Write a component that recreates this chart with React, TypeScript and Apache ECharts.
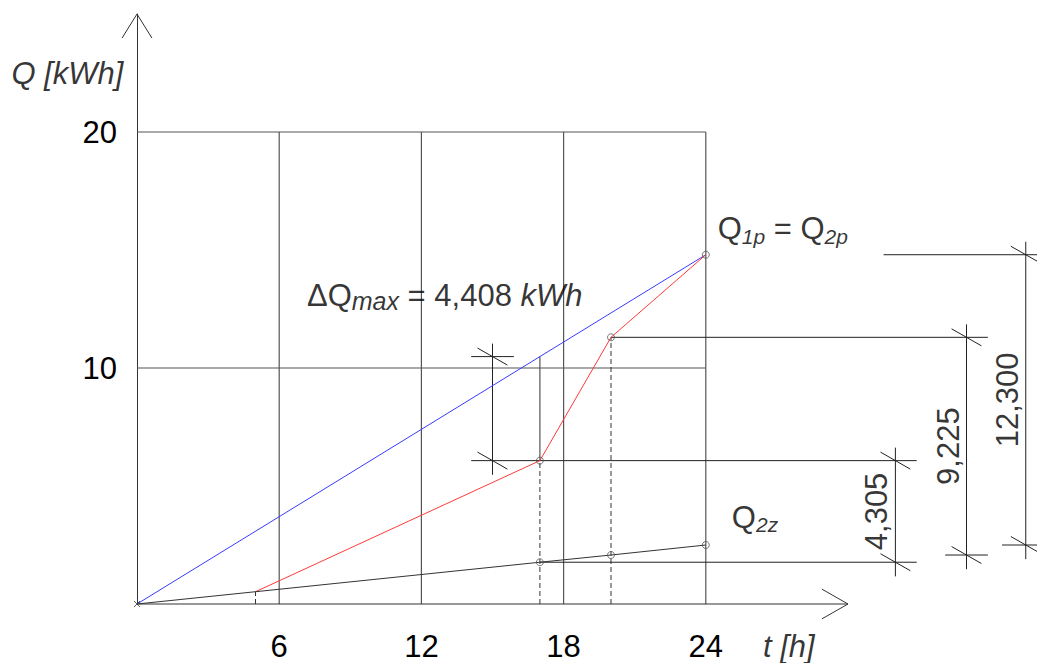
import React, { useEffect, useRef } from 'react';
import * as echarts from 'echarts';

// ---- data ----
const tTicks = [6, 12, 18, 24];
const qTicks = [10, 20];
const tMax = 30;
const qMax = 25;
const q1pLine = [[0, 0], [24, 14.8]];
const q2pLine = [[5, 0.52], [17, 6.075], [20, 11.3], [24, 14.8]];
const q2zLine = [[0, 0], [17, 1.77], [20, 2.075], [24, 2.5]];
const markedPoints = [[17, 6.075], [20, 11.3], [24, 14.8], [17, 1.77], [20, 2.075], [24, 2.5]];
const dQmax = 4.408;
const dimLabels = ['4,305', '9,225', '12,300'];

// ---- drawing geometry (data units) ----
const dimLines = [
  { x: 15, from: 6.075, to: 10.483 },
  { x: 32, from: 1.77, to: 6.075 },
  { x: 35, from: 2.075, to: 11.3 },
  { x: 37.5, from: 2.5, to: 14.8 },
];
const extLines = [
  [[14.1, 10.483], [15.9, 10.483]],
  [[14.1, 6.075], [32.9, 6.075]],
  [[17, 1.77], [32.9, 1.77]],
  [[20, 11.3], [35.9, 11.3]],
  [[34.1, 2.075], [35.9, 2.075]],
  [[31.5, 14.8], [38.6, 14.8]],
  [[36.5, 2.5], [38.6, 2.5]],
];
const dashedLines = [
  [[5, 0], [5, 0.52]],
  [[17, 0], [17, 6.075]],
  [[20, 0], [20, 11.3]],
];
const solidLines = [[[17, 6.075], [17, 10.483]]];

const FONT = '"Liberation Sans", Arial, sans-serif';
const FS = 31;
const PX = 23.7; // pixels per hour
const X_MIN = -6;
const X_MAX = 42;

function seg(pts: any[], color: string, width: number, type: any = 'solid', z = 2) {
  return {
    type: 'line',
    data: pts,
    symbol: 'none',
    clip: false,
    silent: true,
    animation: false,
    z,
    lineStyle: { color, width, type },
  };
}

function textItem(x: number, y: number, label: any) {
  return { value: [x, y], label: { show: true, position: 'inside', ...label } };
}

export default function App() {
  const ref = useRef<HTMLDivElement>(null);
  useEffect(() => {
    if (!ref.current) return;
    const chart = echarts.init(ref.current, null, { renderer: 'svg' });
    const gridColor = '#555';
    const series: any[] = [];

    // grid lines
    tTicks.forEach((t) => series.push(seg([[t, 0], [t, qTicks[qTicks.length - 1]]], gridColor, 1.2)));
    qTicks.forEach((q) => series.push(seg([[0, q], [tTicks[tTicks.length - 1], q]], gridColor, 1.2)));

    // axes with open arrows
    series.push(seg([[0, 0], [tMax, 0]], '#333', 1));
    series.push(seg([[tMax - 1.1, 0.63], [tMax, 0], [tMax - 1.1, -0.63]], '#333', 1));
    series.push(seg([[-0.63, qMax - 1.02], [0, qMax], [0.63, qMax - 1.02]], '#333', 1));

    // helper lines
    dashedLines.forEach((l) => series.push(seg(l, '#333', 1, [5, 3])));
    solidLines.forEach((l) => series.push(seg(l, gridColor, 1.2)));
    extLines.forEach((l) => series.push(seg(l, '#222', 1)));
    dimLines.forEach((d) => {
      series.push(seg([[d.x, d.from - 0.6], [d.x, d.to + 0.55]], '#222', 1));
      [d.from, d.to].forEach((y) =>
        series.push(seg([[d.x - 0.63, y + 0.36], [d.x + 0.63, y - 0.36]], '#222', 1))
      );
    });

    // main curves
    series.push(seg(q1pLine, '#3a3aff', 1, 'solid', 5));
    series.push(seg(q2pLine, '#ff3a3a', 1, 'solid', 5));
    series.push(seg(q2zLine, '#333', 1, 'solid', 5));

    // points
    series.push({
      type: 'scatter',
      data: markedPoints,
      symbol: 'circle',
      symbolSize: 7,
      clip: false,
      silent: true,
      z: 6,
      itemStyle: { color: 'rgba(255,255,255,0)', borderColor: '#555', borderWidth: 1 },
    });
    series.push({
      type: 'scatter',
      data: [[0, 0]],
      symbol: 'path://M0,0L10,10M10,0L0,10',
      symbolSize: 6,
      clip: false,
      silent: true,
      z: 6,
      itemStyle: { color: 'none', borderColor: '#333', borderWidth: 1 },
    });

    const base = { fontFamily: FONT, color: '#000', fontSize: FS };
    const main = { fontFamily: FONT, color: '#000', fontSize: FS, lineHeight: 36 };
    const sub = { fontFamily: FONT, color: '#000', fontSize: 21, fontStyle: 'italic', lineHeight: 21, verticalAlign: 'bottom' };
    const subMax = { ...sub, fontSize: 25, lineHeight: 20 };
    const ital = { ...main, fontStyle: 'italic' };

    const labels: any[] = [];
    dimLabels.forEach((txt, i) => {
      const d = dimLines[i + 1];
      labels.push(textItem(d.x - 0.78, (d.from + d.to) / 2, { ...base, formatter: txt, rotate: 90 }));
    });
    labels.push(
      textItem(-5.3, 22.5, { ...base, fontStyle: 'italic', formatter: 'Q [kWh]', align: 'left' })
    );
    labels.push(
      textItem(26.41, -1.82, { ...base, fontStyle: 'italic', formatter: 't [h]', align: 'left' })
    );
    labels.push(
      textItem(24.5, 15.9, {
        align: 'left',
        formatter: '{m|Q}{s|1p}{m| = Q}{s|2p}',
        rich: { m: main, s: sub },
      })
    );
    labels.push(
      textItem(25.1, 3.67, {
        align: 'left',
        formatter: '{m|Q}{s|2z}',
        rich: { m: main, s: sub },
      })
    );
    labels.push(
      textItem(7.17, 13.09, {
        align: 'left',
        formatter: '{m|ΔQ}{s|max}{m| = ' + dQmax.toFixed(3).replace('.', ',') + ' }{i|kWh}',
        rich: { m: main, s: subMax, i: ital },
      })
    );
    series.push({
      type: 'scatter',
      data: labels,
      symbolSize: 0,
      clip: false,
      silent: true,
      z: 10,
    });

    chart.setOption({
      animation: false,
      backgroundColor: '#fff',
      grid: {
        left: 137 + X_MIN * PX,
        top: 14,
        width: (X_MAX - X_MIN) * PX,
        height: 590,
        containLabel: false,
        outerBoundsMode: 'none',
      },
      xAxis: {
        type: 'value',
        min: X_MIN,
        max: X_MAX,
        interval: 6,
        axisLine: { show: false },
        axisTick: { show: false },
        splitLine: { show: false },
        axisLabel: {
          formatter: (v: number) => (tTicks.includes(v) ? String(v) : ''),
          margin: 27,
          fontSize: FS,
          color: '#000',
          fontFamily: FONT,
        },
      },
      yAxis: {
        type: 'value',
        min: 0,
        max: qMax,
        interval: 10,
        offset: X_MIN * PX,
        axisLine: { show: true, onZero: false, lineStyle: { color: '#333', width: 1 } },
        axisTick: { show: false },
        splitLine: { show: false },
        axisLabel: {
          formatter: (v: number) => (qTicks.includes(v) ? String(v) : ''),
          margin: 20,
          fontSize: FS,
          color: '#000',
          fontFamily: FONT,
        },
      },
      series,
    });
    return () => chart.dispose();
  }, []);
  return <div ref={ref} style={{ position: 'fixed', left: 0, top: 0, width: 1037, height: 663 }} />;
}
